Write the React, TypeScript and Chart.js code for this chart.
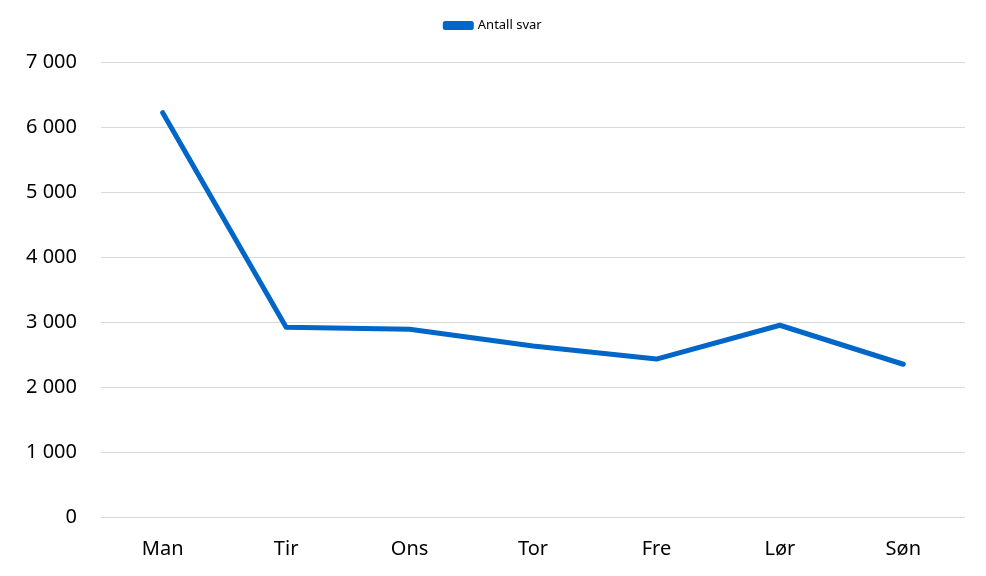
import React, { useEffect, useRef } from "react";
import { Chart, registerables } from "chart.js";

Chart.register(...registerables);

const categories = ["Man", "Tir", "Ons", "Tor", "Fre", "Lør", "Søn"];
const seriesLabel = "Antall svar";
const values = [6220, 2920, 2890, 2630, 2430, 2950, 2350];
const yTicks = [0, 1000, 2000, 3000, 4000, 5000, 6000, 7000];

const FONT = "'Noto Sans', sans-serif";

const legendTweak = {
  id: "legendTweak",
  afterInit(chart: any) {
    const lg = chart.legend;
    if (!lg) return;
    const orig = lg.fit.bind(lg);
    lg.fit = function () {
      orig();
      this.height += 20;
    };
  },
  afterLayout(chart: any) {
    const lg = chart.legend;
    if (!lg) return;
    lg.left += 6;
    lg.right += 6;
  },
};

export default function App() {
  const ref = useRef<HTMLCanvasElement | null>(null);
  useEffect(() => {
    if (!ref.current) return;
    const chart = new Chart(ref.current, {
      type: "line",
      data: {
        labels: categories,
        datasets: [
          {
            label: seriesLabel,
            data: values,
            borderColor: "#0066C8",
            backgroundColor: "#0066C8",
            borderWidth: 5,
            borderCapStyle: "round",
            borderJoinStyle: "round",
            pointRadius: 0,
            tension: 0,
          },
        ],
      },
      options: {
        responsive: false,
        animation: false,
        layout: { padding: { left: 10, right: 21, top: 9, bottom: 0 } },
        plugins: {
          tooltip: { enabled: false },
          legend: {
            position: "top",
            labels: {
              boxWidth: 26,
              boxHeight: 4,
              padding: 10,
              color: "#000",
              font: { family: FONT, size: 13 },
            },
          },
        },
        scales: {
          x: {
            offset: true,
            grid: { display: false, drawTicks: false },
            border: { display: false },
            afterFit: (s: any) => {
              s.height -= 5;
            },
            ticks: {
              color: "#000",
              font: { family: FONT, size: 20 },
              padding: 20,
            },
          },
          y: {
            min: 0,
            max: 7000,
            afterBuildTicks: (s: any) => {
              s.ticks = yTicks.map((v) => ({ value: v }));
            },
            afterFit: (s: any) => {
              s.width = 91;
            },
            grid: { color: "#d9d9d9", drawTicks: false, lineWidth: 1 },
            border: { display: false },
            ticks: {
              color: "#000",
              padding: 24,
              font: { family: FONT, size: 20 },
              callback: (v: any) =>
                Number(v).toString().replace(/\B(?=(\d{3})+(?!\d))/g, " "),
            },
          },
        },
      },
      plugins: [legendTweak],
    });
    return () => chart.destroy();
  }, []);
  return (
    <div style={{ position: "fixed", left: 0, top: 0, width: 986, height: 576, background: "#fff" }}>
      <canvas ref={ref} width={986} height={576} />
    </div>
  );
}
